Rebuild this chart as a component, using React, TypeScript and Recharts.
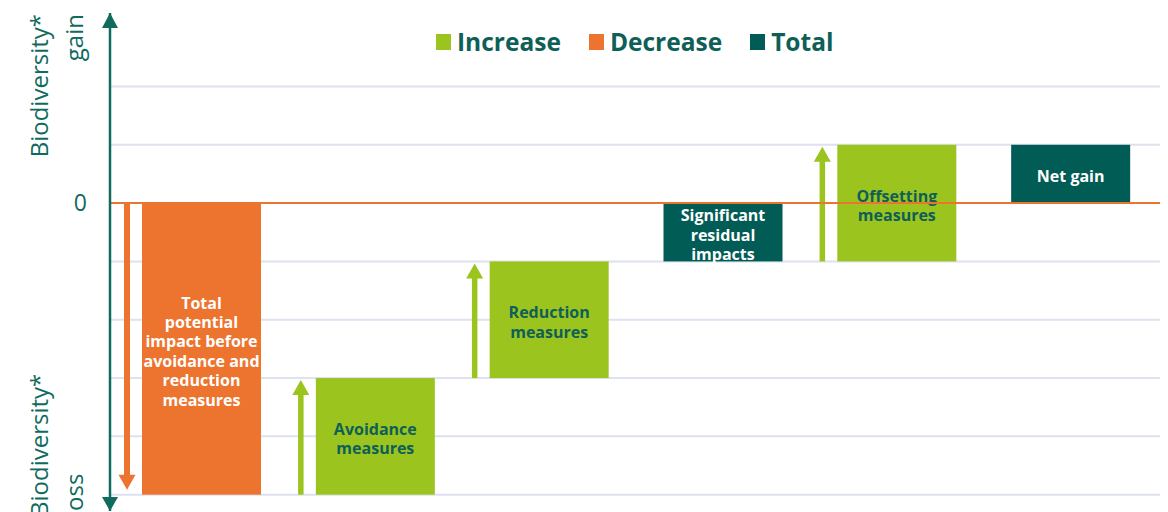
import React from 'react';
import { ComposedChart, Bar, XAxis, YAxis, CartesianGrid, ReferenceLine } from 'recharts';

// ---- data ----
const categories = [
  'Total potential impact',
  'Avoidance measures',
  'Reduction measures',
  'Significant residual impacts',
  'Offsetting measures',
  'Net gain',
];
const baseValues = [0, -5, -3, 0, -1, 0];
const increaseValues = [0, 2, 2, 0, 2, 0];
const decreaseValues = [-5, 0, 0, 0, 0, 0];
const totalValues = [0, 0, 0, -1, 0, 1];
const barLabels = [
  ['Total', 'potential', 'impact before', 'avoidance and', 'reduction', 'measures'],
  ['Avoidance', 'measures'],
  ['Reduction', 'measures'],
  ['Significant', 'residual', 'impacts'],
  ['Offsetting', 'measures'],
  ['Net gain'],
];
const legendNames = ['Increase', 'Decrease', 'Total'];
const yDomain: [number, number] = [-5.28, 3.26];
const gridValues = [-5, -4, -3, -2, -1, 1, 2];
const zeroTickLabel = '0';
const axisTitle = 'Biodiversity*';
const axisTop = 'gain';
const axisBottom = 'loss';

// ---- style ----
const GREEN = '#9BC41F';
const ORANGE = '#ED742E';
const TEAL = '#005C55';
const TEXT_TEAL = '#0E5F57';
const AXIS_TEAL = '#106A5E';
const GRID = '#DEE1EF';
const FONT = '"Open Sans", "Noto Sans", sans-serif';
const legendColors = [GREEN, ORANGE, TEAL];

const data = categories.map((name, i) => ({
  name,
  base: baseValues[i],
  increase: increaseValues[i],
  decrease: decreaseValues[i],
  total: totalValues[i],
  label: barLabels[i],
}));

type Kind = 'increase' | 'decrease' | 'total';

const makeShape = (kind: Kind) => (props: any) => {
  const { x, y, width, height, payload } = props;
  if (height == null || Math.abs(height) < 0.5) return <g />;
  const top = Math.min(y, y + height);
  const h = Math.abs(height);
  const bottom = top + h;
  const fill = kind === 'increase' ? GREEN : kind === 'decrease' ? ORANGE : TEAL;
  const textColor = kind === 'increase' ? TEXT_TEAL : '#FFFFFF';
  const cx = x + width / 2;
  const lines: string[] = payload.label || [];
  const lh = 19.4;
  const midY = top + h / 2 + 2.5;
  const y0 = midY - ((lines.length - 1) * lh) / 2;
  const ax = x - 15;
  const headW = 8.5;
  const headH = 15;
  let arrow: React.ReactNode = null;
  if (kind === 'increase') {
    const tip = top + 2;
    arrow = (
      <g fill={GREEN}>
        <rect x={ax - 2.75} y={tip + headH - 1} width={5.5} height={bottom - (tip + headH - 1)} />
        <polygon points={`${ax},${tip} ${ax - headW},${tip + headH} ${ax + headW},${tip + headH}`} />
      </g>
    );
  } else if (kind === 'decrease') {
    const tip = bottom - 5;
    arrow = (
      <g fill={ORANGE}>
        <rect x={ax - 3} y={top} width={6} height={tip - headH + 1 - top} />
        <polygon points={`${ax},${tip} ${ax - headW},${tip - headH} ${ax + headW},${tip - headH}`} />
      </g>
    );
  }
  return (
    <g>
      <rect x={x} y={top} width={width} height={h} fill={fill} />
      {arrow}
      <text
        textAnchor="middle"
        fontFamily={FONT}
        fontWeight={700}
        fontSize={16}
        fill={textColor}
      >
        {lines.map((ln, i) => (
          <tspan key={i} x={cx} y={y0 + i * lh} dy="0.36em">
            {ln}
          </tspan>
        ))}
      </text>
    </g>
  );
};

const renderTick = (props: any) => {
  const { x, y, payload } = props;
  const v = payload.value;
  const ax = x;
  if (v === yDomain[1]) {
    const tip = y;
    return (
      <g>
        <polygon points={`${ax},${tip} ${ax - 8},${tip + 15} ${ax + 8},${tip + 15}`} fill={AXIS_TEAL} />
        <text transform={`translate(${ax - 62},${tip + 1}) rotate(-90)`} textAnchor="end" fontFamily={FONT} fontSize={24} fill={AXIS_TEAL}>
          {axisTitle}
        </text>
        <text transform={`translate(${ax - 27},${tip + 1}) rotate(-90)`} textAnchor="end" fontFamily={FONT} fontSize={24} fill={AXIS_TEAL}>
          {axisTop}
        </text>
      </g>
    );
  }
  if (v === yDomain[0]) {
    const tip = y;
    return (
      <g>
        <polygon points={`${ax},${tip} ${ax - 8},${tip - 14} ${ax + 8},${tip - 14}`} fill={AXIS_TEAL} />
        <text transform={`translate(${ax - 62},${tip + 6}) rotate(-90)`} textAnchor="start" fontFamily={FONT} fontSize={24} fill={AXIS_TEAL}>
          {axisTitle}
        </text>
        <text transform={`translate(${ax - 27},${tip + 6}) rotate(-90)`} textAnchor="start" fontFamily={FONT} fontSize={24} fill={AXIS_TEAL}>
          {axisBottom}
        </text>
      </g>
    );
  }
  return (
    <text x={ax - 23} y={y} dy="0.36em" textAnchor="end" fontFamily={FONT} fontSize={23} fill={AXIS_TEAL}>
      {zeroTickLabel}
    </text>
  );
};

const Legend = () => (
  <div
    style={{
      position: 'absolute',
      left: 436,
      top: 30,
      display: 'flex',
      alignItems: 'center',
      fontFamily: FONT,
      fontWeight: 700,
      fontSize: 24.5,
      lineHeight: '24.5px',
      color: TEXT_TEAL,
    }}
  >
    {legendNames.map((n, i) => (
      <div key={n} style={{ display: 'flex', alignItems: 'center', marginRight: 28 }}>
        <div style={{ width: 15, height: 16, background: legendColors[i], marginRight: 6 }} />
        <span>{n}</span>
      </div>
    ))}
  </div>
);

export default function App() {
  return (
    <div style={{ position: 'absolute', left: 0, top: 0, width: 1168, height: 512, overflow: 'hidden', background: '#fff' }}>
      <ComposedChart
        width={1168}
        height={512}
        data={data}
        margin={{ top: 13, right: 8, bottom: 1, left: 0 }}
        barSize={119}
      >
        <CartesianGrid vertical={false} horizontalValues={gridValues} stroke={GRID} strokeWidth={2} />
        <XAxis dataKey="name" hide padding={{ left: 5, right: 2 }} />
        <YAxis
          type="number"
          domain={yDomain}
          ticks={[yDomain[0], 0, yDomain[1]]}
          interval={0}
          allowDataOverflow
          tickLine={false}
          tickSize={0}
          tickMargin={0}
          width={110}
          axisLine={{ stroke: AXIS_TEAL, strokeWidth: 2.5 }}
          tick={renderTick}
        />
        <Bar dataKey="base" stackId="w" fill="transparent" isAnimationActive={false} shape={() => <g />} />
        <Bar dataKey="increase" name="Increase" stackId="w" fill={GREEN} isAnimationActive={false} shape={makeShape('increase')} />
        <Bar dataKey="decrease" name="Decrease" stackId="w" fill={ORANGE} isAnimationActive={false} shape={makeShape('decrease')} />
        <Bar dataKey="total" name="Total" stackId="w" fill={TEAL} isAnimationActive={false} shape={makeShape('total')} />
        <ReferenceLine y={0} stroke={ORANGE} strokeWidth={2} />
      </ComposedChart>
      <Legend />
    </div>
  );
}
